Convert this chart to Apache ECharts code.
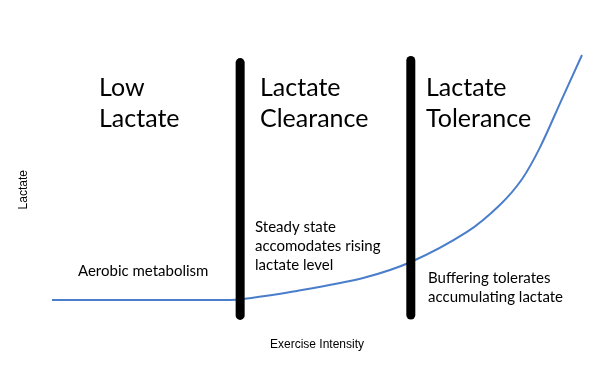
<!DOCTYPE html>
<html><head><meta charset="utf-8">
<script src="https://cdn.jsdelivr.net/npm/echarts@6/dist/echarts.min.js"></script>
<style>html,body{margin:0;padding:0;background:#fff}#c{width:600px;height:371px}</style>
</head><body><div id="c"></div>
<script>
// Exercise intensity (arbitrary units, 0-100)
const intensity = [0, 33.6, 36.0, 46.2, 58.7, 67.7, 78.3, 84.5, 88.7, 92.1, 96.0, 100];
// Lactate level (arbitrary units)
const lactate   = [0, 0, 0.4, 3.7, 9.0, 15.5, 27.8, 38.8, 49.4, 62.4, 81.0, 100];
// Threshold dividers (intensity position, bottom, top)
const thresholds = [35.5, 67.7];
const dividerBottom = [-6.3, -6.1];
const dividerTop = [96.9, 97.8];
const xTitle = 'Exercise Intensity';
const yTitle = 'Lactate';

const chart = echarts.init(document.getElementById('c'));
const font = 'Lato, "Open Sans", sans-serif';
const series = [{
  type: 'line',
  data: intensity.map((x, i) => [x, lactate[i]]),
  smooth: 0.3,
  symbol: 'none',
  lineStyle: { color: '#4a7ecb', width: 2 },
  z: 2
}];
thresholds.forEach((x, i) => {
  series.push({
    type: 'line',
    data: [[x, dividerBottom[i]], [x, dividerTop[i]]],
    symbol: 'none',
    lineStyle: { color: '#000', width: 9, cap: 'round' },
    z: 3
  });
});
chart.setOption({
  animation: false,
  grid: { left: 52, right: 18, top: 55, bottom: 46.5 },
  xAxis: {
    type: 'value', min: 0, max: 100,
    name: xTitle, nameLocation: 'middle', nameGap: 14,
    nameTextStyle: { fontFamily: 'Liberation Sans, Arial, sans-serif', fontSize: 12, color: '#000' },
    axisLine: { show: false }, axisTick: { show: false }, axisLabel: { show: false }, splitLine: { show: false }
  },
  yAxis: {
    type: 'value', min: -10, max: 100,
    name: yTitle, nameLocation: 'middle', nameGap: 22,
    nameTextStyle: { fontFamily: 'Liberation Sans, Arial, sans-serif', fontSize: 12, color: '#000' },
    axisLine: { show: false }, axisTick: { show: false }, axisLabel: { show: false }, splitLine: { show: false }
  },
  series: series,
  graphic: [
    { type: 'text', left: 99, top: 72, style: { text: 'Low\nLactate', font: '25px ' + font, lineHeight: 31, fill: '#000' } },
    { type: 'text', left: 260, top: 72, style: { text: 'Lactate\nClearance', font: '25px ' + font, lineHeight: 31, fill: '#000' } },
    { type: 'text', left: 426, top: 72, style: { text: 'Lactate\nTolerance', font: '25px ' + font, lineHeight: 31, fill: '#000' } },
    { type: 'text', left: 255, top: 218, style: { text: 'Steady state\naccomodates rising\nlactate level', font: '15px ' + font, lineHeight: 19, fill: '#000' } },
    { type: 'text', left: 78, top: 262, style: { text: 'Aerobic metabolism', font: '15px ' + font, lineHeight: 19, fill: '#000' } },
    { type: 'text', left: 428, top: 269, style: { text: 'Buffering tolerates\naccumulating lactate', font: '15px ' + font, lineHeight: 19, fill: '#000' } }
  ]
});
</script></body></html>
